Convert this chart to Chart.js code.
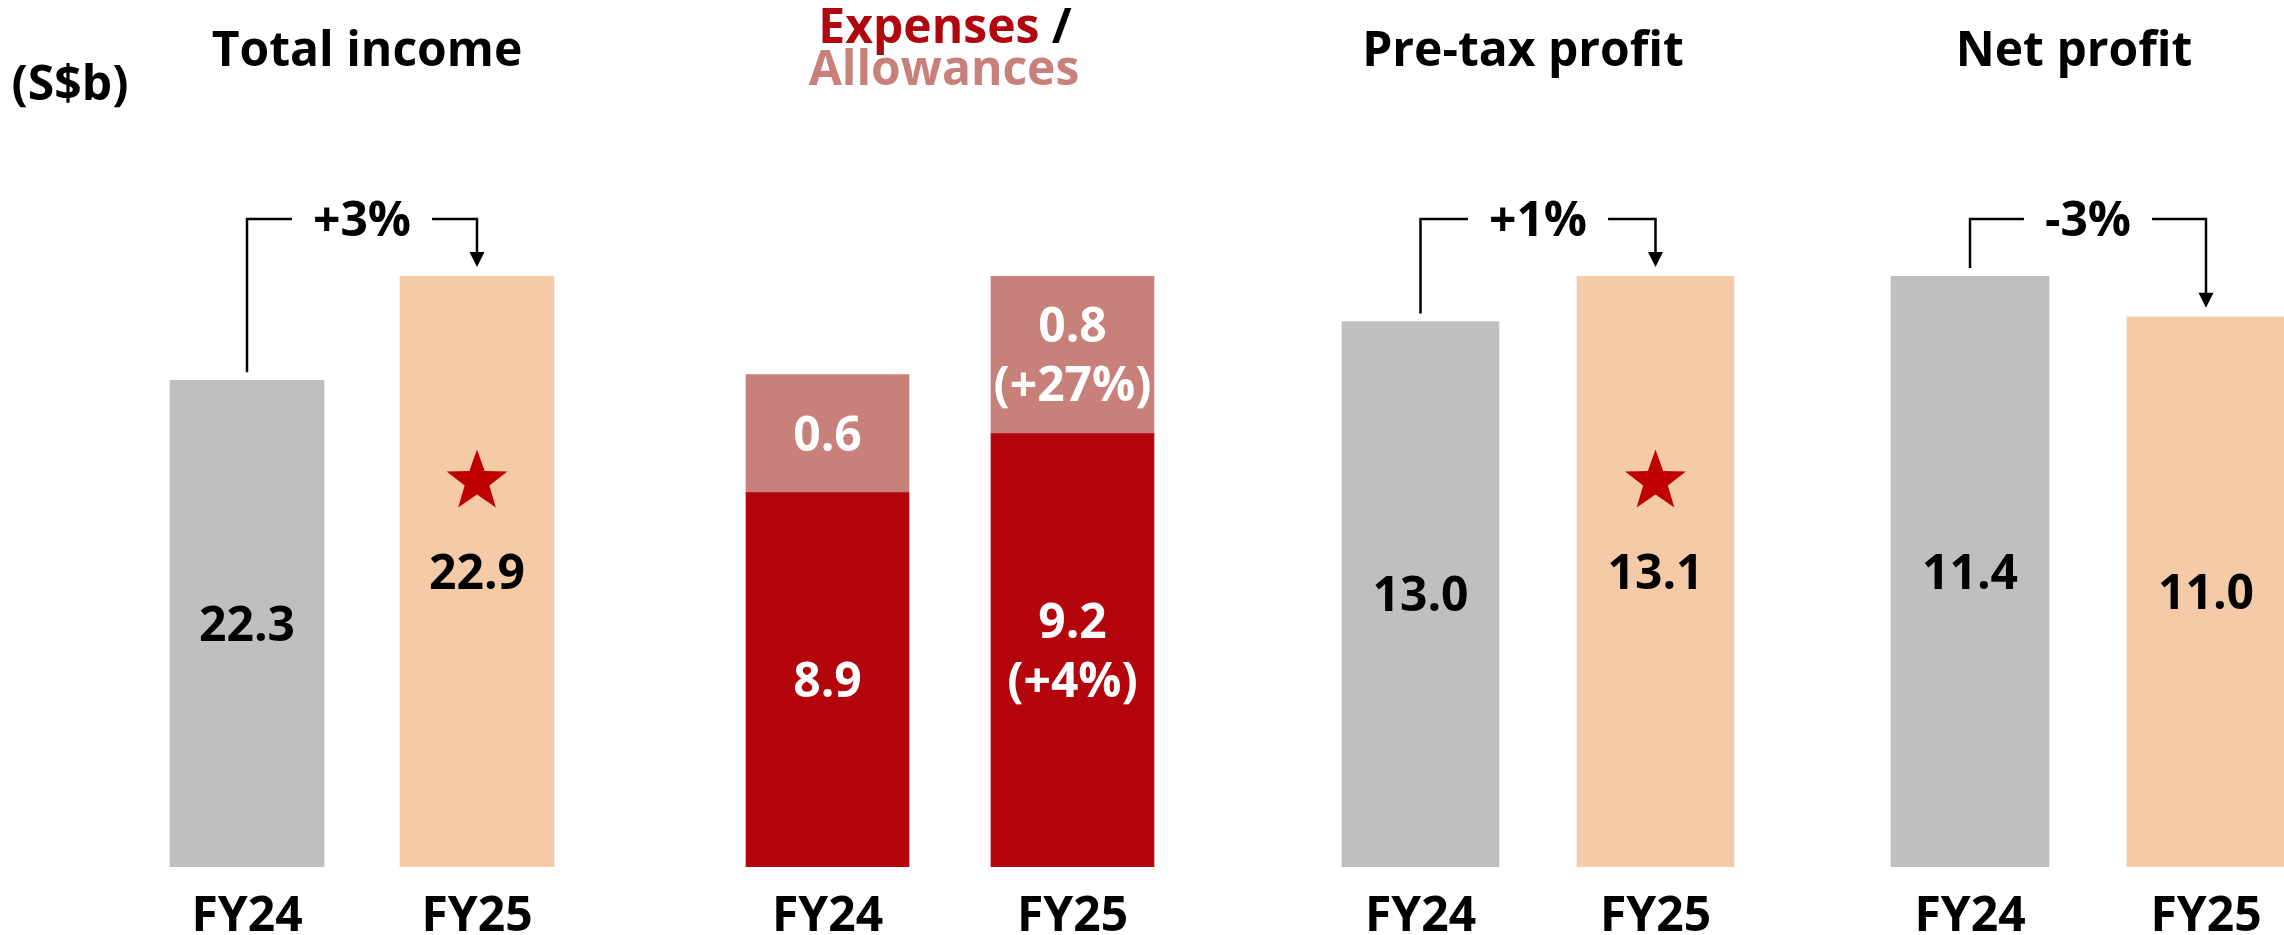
<!DOCTYPE html>
<html>
<head>
<meta charset="utf-8">
<script src="https://cdn.jsdelivr.net/npm/chart.js@4.4.1/dist/chart.umd.min.js"></script>
<style>
  html, body { margin: 0; padding: 0; background: #ffffff; overflow: hidden; width: 2284px; height: 935px; position: relative; }
  canvas { position: absolute; top: 0; }
</style>
</head>
<body>
<canvas id="c1"></canvas>
<canvas id="c2"></canvas>
<canvas id="c3"></canvas>
<canvas id="c4"></canvas>
<script>
// ---------------- data ----------------
const periods = ['FY24', 'FY25'];
const totalIncome = [22.3, 22.9];
const expenses = [8.9, 9.2];
const allowances = [0.6, 0.8];
const expensesChange = [null, '+4%'];
const allowancesChange = [null, '+27%'];
const preTaxProfit = [13.0, 13.1];
const netProfit = [11.4, 11.0];
const incomeChange = '+3%';
const preTaxChange = '+1%';
const netChange = '-3%';
const incomeStar = [false, true];
const preTaxStar = [false, true];
const unitLabel = '(S$b)';

// ---------------- style ----------------
const GREY = '#BFBFBF', PEACH = '#F5CBA7', RED = '#B4050C', PINK = '#C8807A', STAR = '#C00000';
const FAM = '"Open Sans", "Noto Sans", "DejaVu Sans", sans-serif';
const font = s => `bold ${s}px ${FAM}`;
const AREA_TOP = 276;

function drawStar(ctx, cx, cy, R, r, color) {
  ctx.beginPath();
  for (let k = 0; k < 10; k++) {
    const rad = k % 2 === 0 ? R : r;
    const ang = -Math.PI / 2 + k * Math.PI / 5;
    const x = cx + rad * Math.cos(ang), y = cy + rad * Math.sin(ang);
    if (k === 0) ctx.moveTo(x, y); else ctx.lineTo(x, y);
  }
  ctx.closePath();
  ctx.fillStyle = color;
  ctx.fill();
}

const panelPlugin = {
  id: 'panel',
  afterDatasetsDraw(chart, args, opts) {
    const ctx = chart.ctx, area = chart.chartArea;
    ctx.save();
    ctx.textAlign = 'center';
    ctx.textBaseline = 'alphabetic';
    ctx.font = font(48);
    chart.data.datasets.forEach((ds, di) => {
      const meta = chart.getDatasetMeta(di);
      meta.data.forEach((el, i) => {
        const bottom = Math.min(el.base, area.bottom);
        const top = Math.max(el.y, area.top);
        const cy = (top + bottom) / 2;
        const lines = [ds.data[i].toFixed(1)];
        if (ds.changes && ds.changes[i]) lines.push('(' + ds.changes[i] + ')');
        ctx.fillStyle = ds.labelColor;
        const lh = 59;
        lines.forEach((t, k) => {
          const y = cy + (k - (lines.length - 1) / 2) * lh + 17;
          ctx.fillText(t, el.x, y);
        });
        if (ds.stars && ds.stars[i]) drawStar(ctx, el.x, cy - 90, 32, 13, STAR);
      });
    });
    ctx.restore();
  },
  afterDraw(chart, args, opts) {
    const ctx = chart.ctx, off = opts.offset;
    ctx.save();
    ctx.textBaseline = 'alphabetic';
    // titles
    (opts.titles || []).forEach(t => {
      ctx.font = font(t.size || 48);
      const widths = t.parts.map(p => ctx.measureText(p.text).width);
      const total = widths.reduce((a, b) => a + b, 0);
      let x = t.x - off - total / 2;
      ctx.textAlign = 'left';
      t.parts.forEach((p, k) => {
        ctx.fillStyle = p.color;
        ctx.fillText(p.text, x, t.y);
        x += widths[k];
      });
    });
    // change bracket
    if (opts.change) {
      const els = chart.getDatasetMeta(0).data;
      const a = els[0], b = els[1];
      const lineY = 219, textY = 236;
      ctx.font = font(48);
      const w = ctx.measureText(opts.change).width;
      const cx = (a.x + b.x) / 2;
      ctx.strokeStyle = '#000';
      ctx.fillStyle = '#000';
      ctx.lineWidth = 2.5;
      ctx.lineJoin = 'miter';
      ctx.beginPath();
      ctx.moveTo(a.x, a.y - 8);
      ctx.lineTo(a.x, lineY);
      ctx.lineTo(cx - w / 2 - 21, lineY);
      ctx.moveTo(cx + w / 2 + 21, lineY);
      ctx.lineTo(b.x, lineY);
      ctx.lineTo(b.x, b.y - 22);
      ctx.stroke();
      ctx.beginPath();
      ctx.moveTo(b.x - 7.5, b.y - 24);
      ctx.lineTo(b.x + 7.5, b.y - 24);
      ctx.lineTo(b.x, b.y - 9);
      ctx.closePath();
      ctx.fill();
      ctx.textAlign = 'center';
      ctx.fillText(opts.change, cx, textY);
    }
    ctx.restore();
  }
};

function build(id, left, width, padL, padR, datasets, yMin, yMax, stacked, panelOpts) {
  const cv = document.getElementById(id);
  cv.width = width; cv.height = 935;
  cv.style.left = left + 'px';
  cv.style.width = width + 'px';
  cv.style.height = '935px';
  panelOpts.offset = left;
  return new Chart(cv, {
    type: 'bar',
    data: { labels: periods, datasets: datasets },
    options: {
      responsive: false,
      devicePixelRatio: 1,
      animation: false,
      events: [],
      layout: { padding: { left: padL, right: padR, top: AREA_TOP, bottom: 0 } },
      plugins: { legend: { display: false }, tooltip: { enabled: false }, panel: panelOpts },
      scales: {
        x: {
          stacked: stacked,
          grid: { display: false, drawTicks: false },
          border: { display: false },
          ticks: { color: '#000', padding: 22, font: { family: FAM, size: 48, weight: 'bold' } },
          afterFit(s) { s.height = 68; }
        },
        y: { display: false, stacked: stacked, min: yMin, max: yMax }
      }
    },
    plugins: [panelPlugin]
  });
}

// Panel 1: Total income
build('c1', 0, 650, 132, 58, [{
  data: totalIncome, backgroundColor: [GREY, PEACH], barThickness: 154, clip: 0,
  labelColor: '#000', stars: incomeStar
}], 19.5, 22.9, false, {
  change: incomeChange,
  titles: [
    { x: 367, y: 66, parts: [{ text: 'Total income', color: '#000' }] },
    { x: 70, y: 100, parts: [{ text: unitLabel, color: '#000' }] }
  ]
});

// Panel 2: Expenses / Allowances (stacked)
build('c2', 650, 600, 55, 55, [
  { data: expenses, backgroundColor: RED, barThickness: 163, clip: 0, labelColor: '#fff', changes: expensesChange },
  { data: allowances, backgroundColor: PINK, barThickness: 163, clip: 0, labelColor: '#fff', changes: allowancesChange }
], 7.0, 10.0, true, {
  titles: [
    { x: 945, y: 43, parts: [{ text: 'Expenses', color: '#B0060F' }, { text: ' /', color: '#000' }] },
    { x: 944, y: 85, parts: [{ text: 'Allowances', color: PINK }] }
  ]
});

// Panel 3: Pre-tax profit
build('c3', 1250, 550, 53, 27, [{
  data: preTaxProfit, backgroundColor: [GREY, PEACH], barThickness: 157, clip: 0,
  labelColor: '#000', stars: preTaxStar
}], 11.8, 13.1, false, {
  change: preTaxChange,
  titles: [{ x: 1523, y: 66, parts: [{ text: 'Pre-tax profit', color: '#000' }] }]
});

// Panel 4: Net profit
build('c4', 1800, 540, 52, 16, [{
  data: netProfit, backgroundColor: [GREY, PEACH], barThickness: 158, clip: 0,
  labelColor: '#000'
}], 5.6, 11.4, false, {
  change: netChange,
  titles: [{ x: 2074, y: 66, parts: [{ text: 'Net profit', color: '#000' }] }]
});
</script>
</body>
</html>
